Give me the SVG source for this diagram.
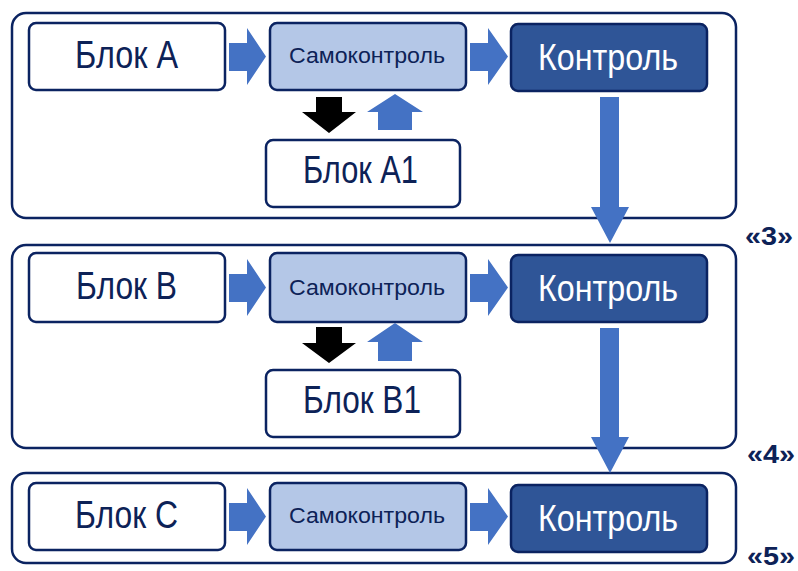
<svg xmlns="http://www.w3.org/2000/svg" width="798" height="571" viewBox="0 0 798 571">
<defs>
<style>
.frame{fill:#fff;stroke:#0B2361;stroke-width:2.5}
.box{fill:#fff;stroke:#0B2361;stroke-width:2.5}
.samo{fill:#B4C7E7;stroke:#0B2361;stroke-width:2.5}
.ctrl{fill:#2F5597;stroke:#0B2361;stroke-width:2.5}
.t{font-family:"Liberation Sans",Arial,sans-serif;fill:#0D2257}
.big{font-size:38px}
.mid{font-size:22px}
.wt{font-family:"Liberation Sans",Arial,sans-serif;fill:#fff;font-size:37px}
.lbl{font-family:"Liberation Sans",Arial,sans-serif;fill:#0D2257;font-size:25px;font-weight:bold}
.ba{fill:#4472C4}
.bk{fill:#000}
</style>
</defs>
<rect class="frame" x="12" y="13" width="724" height="205" rx="14"/>
<rect class="frame" x="12" y="245" width="724" height="203" rx="14"/>
<rect class="frame" x="12" y="473" width="724" height="90" rx="14"/>

<g id="blockA"><rect class="box" x="29" y="23" width="196" height="67" rx="7"/><text class="t big" x="75" y="68" textLength="103" lengthAdjust="spacingAndGlyphs">Блок А</text></g>
<g id="samoA"><rect class="samo" x="270" y="23" width="196" height="67" rx="7"/><text class="t mid" x="289" y="63" textLength="156" lengthAdjust="spacingAndGlyphs">Самоконтроль</text></g>
<g id="ctrlA"><rect class="ctrl" x="511" y="24" width="196" height="67" rx="7"/><text class="wt" x="538" y="70" textLength="140" lengthAdjust="spacingAndGlyphs">Контроль</text></g>
<g id="blockA1"><rect class="box" x="266" y="140" width="194" height="67" rx="7"/><text class="t big" x="303" y="183" textLength="115" lengthAdjust="spacingAndGlyphs">Блок А1</text></g>

<g id="blockB"><rect class="box" x="29" y="253" width="196" height="69" rx="7"/><text class="t big" x="76" y="299" textLength="101" lengthAdjust="spacingAndGlyphs">Блок В</text></g>
<g id="samoB"><rect class="samo" x="270" y="253" width="196" height="69" rx="7"/><text class="t mid" x="289" y="295" textLength="156" lengthAdjust="spacingAndGlyphs">Самоконтроль</text></g>
<g id="ctrlB"><rect class="ctrl" x="511" y="255" width="196" height="67" rx="7"/><text class="wt" x="538" y="301" textLength="140" lengthAdjust="spacingAndGlyphs">Контроль</text></g>
<g id="blockB1"><rect class="box" x="266" y="370" width="194" height="67" rx="7"/><text class="t big" x="303" y="413" textLength="118" lengthAdjust="spacingAndGlyphs">Блок В1</text></g>

<g id="blockC"><rect class="box" x="29" y="483" width="196" height="67" rx="7"/><text class="t big" x="75" y="528" textLength="103" lengthAdjust="spacingAndGlyphs">Блок С</text></g>
<g id="samoC"><rect class="samo" x="270" y="483" width="196" height="67" rx="7"/><text class="t mid" x="289" y="523" textLength="156" lengthAdjust="spacingAndGlyphs">Самоконтроль</text></g>
<g id="ctrlC"><rect class="ctrl" x="511" y="485" width="196" height="67" rx="7"/><text class="wt" x="538" y="531" textLength="140" lengthAdjust="spacingAndGlyphs">Контроль</text></g>

<g id="connectors">
<path class="ba" d="M229,43 H247 V28 L266,56.5 L247,85 V71 H229 Z"/>
<path class="ba" d="M470,43 H488 V28 L508,56.5 L488,85 V71 H470 Z"/>
<path class="bk" d="M316,97 H342 V112 H356 L329,133 L302,112 H316 Z"/>
<path class="ba" d="M395,94 L423,112 H412 V130 H378 V112 H367 Z"/>
<path class="ba" d="M600,97 H619 V207 H629 L610,243 L591,207 H600 Z"/>

<path class="ba" d="M229,274 H247 V259 L266,287.5 L247,316 V302 H229 Z"/>
<path class="ba" d="M470,274 H488 V259 L508,287.5 L488,316 V302 H470 Z"/>
<path class="bk" d="M316,327 H342 V343 H356 L329,363 L302,343 H316 Z"/>
<path class="ba" d="M395,323 L423,342 H412 V361 H378 V342 H367 Z"/>
<path class="ba" d="M600,328 H619 V437 H629 L610,473 L591,437 H600 Z"/>

<path class="ba" d="M229,503 H247 V488 L266,516.5 L247,545 V531 H229 Z"/>
<path class="ba" d="M470,503 H488 V488 L508,516.5 L488,545 V531 H470 Z"/>
</g>

<text class="lbl" x="745" y="245" textLength="48" lengthAdjust="spacingAndGlyphs">«3»</text>
<text class="lbl" x="747" y="463" textLength="48" lengthAdjust="spacingAndGlyphs">«4»</text>
<text class="lbl" x="747" y="565" textLength="48" lengthAdjust="spacingAndGlyphs">«5»</text>
</svg>
